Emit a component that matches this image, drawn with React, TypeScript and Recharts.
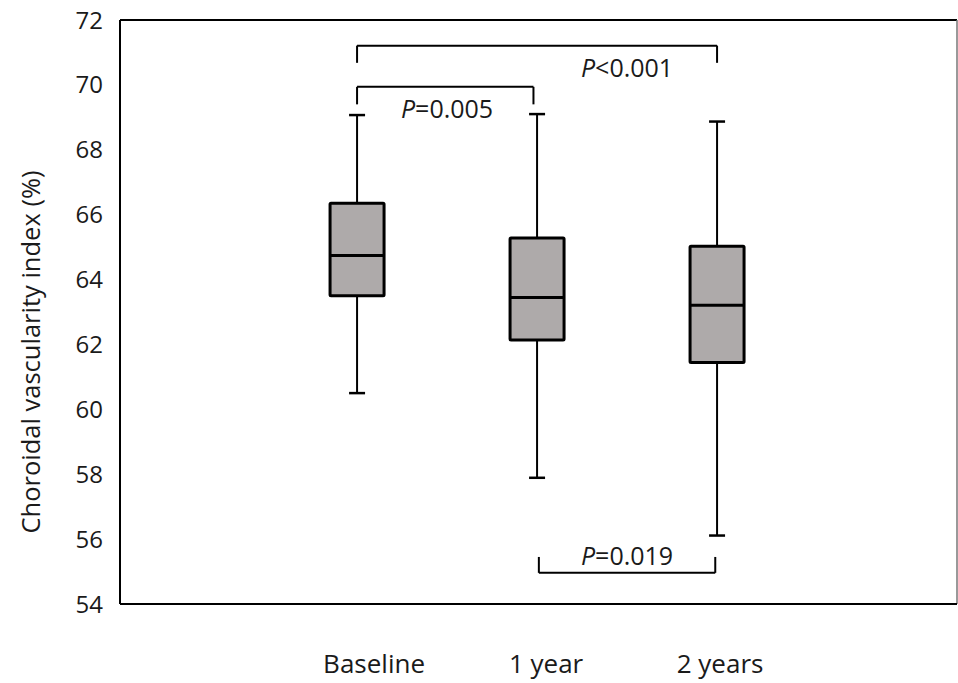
import { ComposedChart, Bar, XAxis, YAxis, ReferenceLine, ReferenceDot, Label } from 'recharts';

const groups = ['Baseline', '1 year', '2 years'];
const positions = [1, 2, 3];
const whiskerLow = [60.5, 57.89, 56.11];
const q1 = [63.5, 62.14, 61.44];
const median = [64.74, 63.45, 63.21];
const q3 = [66.35, 65.28, 65.03];
const whiskerHigh = [69.07, 69.1, 68.87];

const yTicks = [54, 56, 58, 60, 62, 64, 66, 68, 70, 72];

// pairwise comparisons: bracket ends, bracket height, leg end, p text and its spot
const pFrom = [1, 1, 2.01];
const pTo = [3, 1.98, 2.99];
const pLineY = [71.21, 69.94, 54.96];
const pLegY = [70.68, 69.4, 55.45];
const pText = ['<0.001', '=0.005', '=0.019'];
const pTextX = [2.5, 1.5, 2.5];
const pTextY = [70.55, 69.29, 55.51];

const X_MIN = -0.317;
const X_MAX = 4.333;
const FONT = '"Open Sans", "Noto Sans", sans-serif';
const TEXT = '#1a1a1a';
const LABEL_SHIFT = [17, 9, 3];

const boxData = positions.map((pos, i) => ({
  pos,
  name: groups[i],
  lo: whiskerLow[i],
  q1: q1[i],
  med: median[i],
  q3: q3[i],
  hi: whiskerHigh[i],
  range: [whiskerLow[i], whiskerHigh[i]],
}));

const BoxShape = (props: any) => {
  const { x, y, width, height, payload } = props;
  const top = Math.min(y, y + height);
  const bottom = Math.max(y, y + height);
  const toPx = (v: number) => top + ((payload.hi - v) / (payload.hi - payload.lo)) * (bottom - top);
  const cx = x + width / 2;
  const cap = 8;
  return (
    <g>
      <line x1={cx} x2={cx} y1={toPx(payload.hi)} y2={toPx(payload.q3)} stroke="#000" strokeWidth={2} />
      <line x1={cx} x2={cx} y1={toPx(payload.q1)} y2={toPx(payload.lo)} stroke="#000" strokeWidth={2} />
      <line x1={cx - cap} x2={cx + cap} y1={toPx(payload.hi)} y2={toPx(payload.hi)} stroke="#000" strokeWidth={2.5} />
      <line x1={cx - cap} x2={cx + cap} y1={toPx(payload.lo)} y2={toPx(payload.lo)} stroke="#000" strokeWidth={2.5} />
      <rect
        x={x}
        y={toPx(payload.q3)}
        width={width}
        height={toPx(payload.q1) - toPx(payload.q3)}
        fill="#AEAAAA"
        stroke="#000"
        strokeWidth={3}
        rx={1}
      />
      <line x1={x} x2={x + width} y1={toPx(payload.med)} y2={toPx(payload.med)} stroke="#000" strokeWidth={3} />
    </g>
  );
};

const XTick = (props: any) => {
  const { x, y, payload, index } = props;
  const i = positions.indexOf(payload.value);
  return (
    <text
      x={x + (LABEL_SHIFT[i] ?? LABEL_SHIFT[index] ?? 0)}
      y={y}
      dy={69}
      textAnchor="middle"
      fontSize={26}
      fontFamily={FONT}
      fill={TEXT}
    >
      {groups[i]}
    </text>
  );
};

const pLabel = (text: string) => (props: any) => {
  const { viewBox } = props;
  const cx = viewBox.x + (viewBox.width || 0) / 2;
  const cy = viewBox.y + (viewBox.height || 0) / 2;
  return (
    <text x={cx} y={cy} textAnchor="middle" dominantBaseline="central" fontSize={25} fontFamily={FONT} fill={TEXT}>
      <tspan fontStyle="italic">P</tspan>
      {text}
    </text>
  );
};

const YTitle = (props: any) => {
  const { viewBox } = props;
  const cx = viewBox.x + 30;
  const cy = viewBox.y + viewBox.height / 2 + 40;
  return (
    <text
      x={cx}
      y={cy}
      transform={`rotate(-90, ${cx}, ${cy})`}
      textAnchor="middle"
      dominantBaseline="central"
      fontSize={25.5}
      fontFamily={FONT}
      fill={TEXT}
    >
      Choroidal vascularity index (%)
    </text>
  );
};

export default function App() {
  return (
    <div style={{ position: 'absolute', left: 0, top: 0, background: '#fff' }}>
      <ComposedChart
        width={958}
        height={683}
        data={boxData}
        margin={{ top: 20, right: 1, left: 0, bottom: 0 }}
        style={{ fontFamily: FONT }}
      >
        <XAxis
          dataKey="pos"
          type="number"
          domain={[X_MIN, X_MAX]}
          allowDataOverflow
          ticks={positions}
          tick={<XTick />}
          tickLine={false}
          tickSize={0}
          tickMargin={0}
          height={79}
          axisLine={{ stroke: '#000', strokeWidth: 2 }}
        />
        <YAxis
          domain={[54, 72]}
          ticks={yTicks}
          allowDataOverflow
          width={120}
          tickLine={false}
          tickSize={0}
          tickMargin={17}
          tick={{ fontSize: 24, fill: TEXT, fontFamily: FONT }}
          axisLine={{ stroke: '#000', strokeWidth: 2 }}
        >
          <Label content={<YTitle />} />
        </YAxis>
        <ReferenceLine y={72} stroke="#000" strokeWidth={2} ifOverflow="visible" />
        <ReferenceLine x={X_MAX} stroke="#777" strokeWidth={1.5} ifOverflow="visible" />
        <Bar dataKey="range" barSize={54} shape={<BoxShape />} isAnimationActive={false} />
        {pText.map((t, i) => (
          <ReferenceLine
            key={`h${i}`}
            segment={[{ x: pFrom[i], y: pLineY[i] }, { x: pTo[i], y: pLineY[i] }]}
            stroke="#000"
            strokeWidth={2}
            ifOverflow="visible"
          />
        ))}
        {pText.map((t, i) => (
          <ReferenceLine
            key={`l${i}`}
            segment={[{ x: pFrom[i], y: pLineY[i] }, { x: pFrom[i], y: pLegY[i] }]}
            stroke="#000"
            strokeWidth={2}
            ifOverflow="visible"
          />
        ))}
        {pText.map((t, i) => (
          <ReferenceLine
            key={`r${i}`}
            segment={[{ x: pTo[i], y: pLineY[i] }, { x: pTo[i], y: pLegY[i] }]}
            stroke="#000"
            strokeWidth={2}
            ifOverflow="visible"
          />
        ))}
        {pText.map((t, i) => (
          <ReferenceDot
            key={`t${i}`}
            x={pTextX[i]}
            y={pTextY[i]}
            r={0}
            fill="none"
            stroke="none"
            ifOverflow="visible"
            label={{ content: pLabel(t) }}
          />
        ))}
      </ComposedChart>
    </div>
  );
}
